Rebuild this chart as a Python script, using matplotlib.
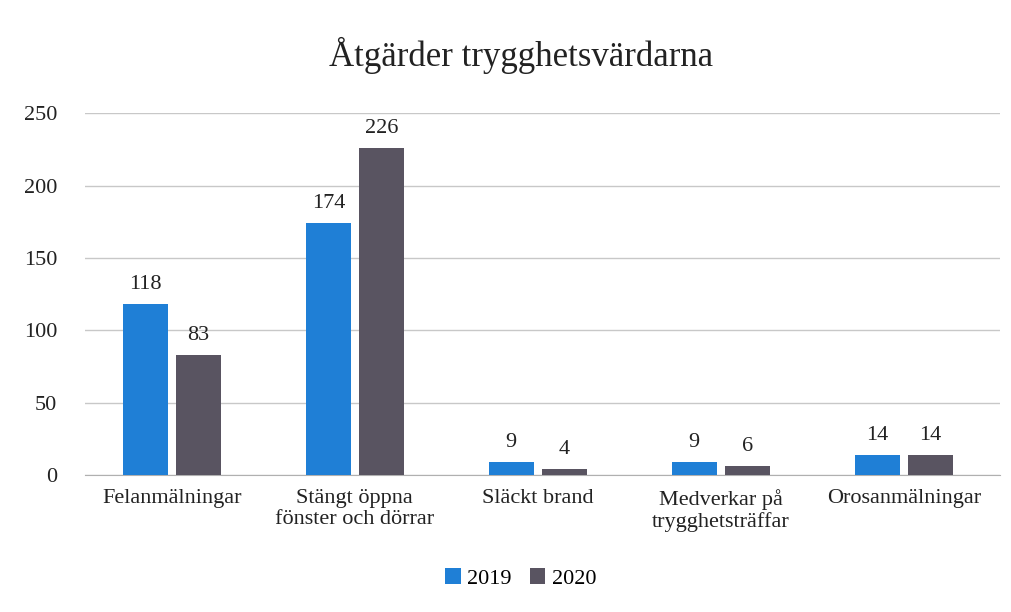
import matplotlib
matplotlib.use("Agg")
import matplotlib.pyplot as plt
import numpy as np

categories = ["Felanmälningar", "Stängt öppna\nfönster och dörrar", "Släckt brand",
              "Medverkar på\ntrygghetsträffar", "Orosanmälningar"]
values_2019 = [118, 174, 9, 9, 14]
values_2020 = [83, 226, 4, 6, 14]
yticks = [0, 50, 100, 150, 200, 250]

plt.rcParams['font.family'] = ['Liberation Serif', 'DejaVu Serif']

fig = plt.figure(figsize=(10.11, 6.12), dpi=100)
ax = fig.add_axes([0.084, 0.224, 0.905, 0.591])

x = np.arange(len(categories))
w = 0.245
off = 0.145
b1 = ax.bar(x - off, values_2019, w, color="#1f7fd6", label="2019", zorder=3)
b2 = ax.bar(x + off, values_2020, w, color="#595461", label="2020", zorder=3)

for bars in (b1, b2):
    for r in bars:
        ax.text(r.get_x() + r.get_width() / 2, r.get_height() + 7, f"{int(r.get_height())}",
                ha="center", va="bottom", fontsize=16, color="#222222")

ax.set_xlim(-0.475, 4.525)
ax.set_ylim(0, 250)
ax.set_yticks(yticks)
ax.yaxis.grid(True, color="#c8c8c8", linewidth=1, zorder=0)
ax.set_axisbelow(True)
for s in ["top", "right", "left"]:
    ax.spines[s].set_visible(False)
ax.spines["bottom"].set_color("#b0b0b0")
ax.tick_params(axis="both", length=0, labelsize=16, colors="#222222")
ax.tick_params(axis="y", pad=20)
ax.set_xticks(x)
ax.set_xticklabels(categories, fontsize=16, linespacing=1.15)
ax.tick_params(axis="x", pad=10)

fig.text(0.515, 0.91, "Åtgärder trygghetsvärdarna", ha="center", va="center", fontsize=25, color="#222222")

fig.legend(handles=[b1, b2], labels=["2019", "2020"], loc="center", bbox_to_anchor=(0.515, 0.055),
           ncol=2, frameon=False, fontsize=16, handlelength=0.7, handleheight=0.7,
           handletextpad=0.3, columnspacing=0.8)

fig.savefig("out.png", dpi=100)
